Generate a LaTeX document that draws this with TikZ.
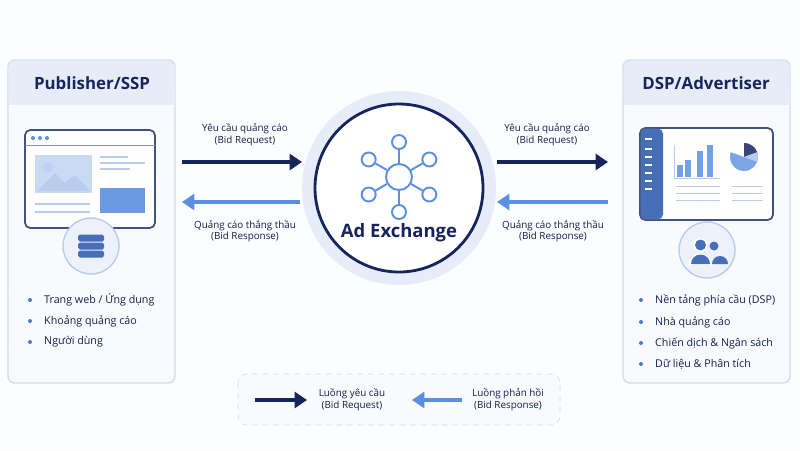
\documentclass[tikz,border=0pt]{standalone}
\usepackage{fontspec}
\setmainfont{Open Sans}
\usetikzlibrary{arrows.meta,calc}
\definecolor{navy}{HTML}{17255C}
\definecolor{sky}{HTML}{5B8FE0}
\definecolor{pale}{HTML}{E6EDF8}
\definecolor{panel}{HTML}{F8FAFD}
\definecolor{edge}{HTML}{D3DCEA}
\definecolor{soft}{HTML}{B9CCEE}
\begin{document}
\begin{tikzpicture}[x=0.02cm,y=-0.02cm,
  box/.style={draw=edge,fill=panel,rounded corners=4pt,line width=0.8pt},
  title/.style={font=\bfseries\fontsize{9.6}{11}\selectfont,text=navy},
  lbl/.style={font=\fontsize{5.6}{6.8}\selectfont,text=navy!85!black,align=center},
  item/.style={font=\fontsize{6.1}{7}\selectfont,text=navy!85!black,anchor=west},
  req/.style={-{Triangle[length=7pt,width=9pt]},line width=2.6pt,navy},
  resp/.style={-{Triangle[length=7pt,width=9pt]},line width=2.6pt,sky},
  hub/.style={circle,draw=sky,line width=1.1pt,fill=white,inner sep=0pt}]

\fill[white!60!panel] (0,0) rectangle (800,450);
\useasboundingbox (0,0) rectangle (800,450);

% publisher panel
\draw[box] (8,60) rectangle (175,383);
\fill[pale,rounded corners=4pt] (8.5,60.5) rectangle (174.5,105);
\fill[pale] (8.5,90) rectangle (174.5,105);
\node[title] (pub) at (92,83) {Publisher/SSP};
\draw[navy!80,fill=white,rounded corners=3pt,line width=1pt] (25,130) rectangle (155,228);
\draw[navy!50] (25,145) -- (155,145);
\foreach \i in {33,40,47} \fill[sky] (\i,138) circle (2);
\fill[pale!80!sky] (35,155) rectangle (92,193);
\fill[white!60!sky] (48,167) circle (5);
\fill[soft] (37,191) -- (55,173) -- (65,183) -- (75,175) -- (90,191) -- cycle;
\foreach \y/\w in {157/28,163/45,169/30} \draw[soft,line width=1pt] (100,\y) -- ++(\w,0);
\fill[sky!90] (100,188) rectangle (145,213);
\foreach \y in {204,212} \draw[soft,line width=1pt] (35,\y) -- (90,\y);
\draw[soft,fill=pale!70!white,line width=0.8pt] (91,246) circle (28);
\foreach \y in {238,246,254} \fill[sky!70!navy,rounded corners=1pt] (78,\y-3.5) rectangle (104,\y+3.5);
\foreach \y/\t in {300/{Trang web / Ứng dụng},321/{Khoảng quảng cáo},342/{Người dùng}} {
  \fill[sky!80!navy] (30,\y) circle (2);
  \node[item] at (38,\y) {\t};
}

% advertiser panel
\draw[box] (623,60) rectangle (790,383);
\fill[pale,rounded corners=4pt] (623.5,60.5) rectangle (789.5,105);
\fill[pale] (623.5,90) rectangle (789.5,105);
\node[title] (dsp) at (706,83) {DSP/Advertiser};
\draw[navy!80,fill=white,rounded corners=3pt,line width=1pt] (640,128) rectangle (773,220);
\fill[sky!70!navy,rounded corners=3pt] (640.5,128.5) rectangle (663,219.5);
\foreach \y in {139,149,157,165,173,181,189} \draw[white,line width=0.8pt] (645,\y) -- (652,\y);
\draw[soft] (674,145) -- (674,178) -- (720,178);
\foreach \x/\h in {677/12,685/17,697/26,707/32} \fill[sky!85] (\x,177) rectangle ++(6,-\h);
\fill[sky!80] (744,157) -- ++(270:14) arc (270:560:14) -- cycle;
\fill[navy!85] (744,157) -- ++(270:14) arc (270:340:14) -- cycle;
\fill[soft] (744,157) -- ++(340:14) arc (340:380:14) -- cycle;
\foreach \y in {186,193,200} {\draw[soft] (676,\y) -- (720,\y); \draw[soft] (732,\y) -- (763,\y);}
\draw[soft,fill=pale!70!white,line width=0.8pt] (707,250) circle (28);
\fill[sky!70!navy] (712,264) arc (180:360:8) -- cycle;
\fill[sky!70!navy] (714,246) circle (4.5);
\fill[white] (689,265) arc (180:360:11.5) -- cycle;
\fill[sky!70!navy] (691,264) arc (180:360:9.5) -- cycle;
\fill[white] (700.5,245) circle (7);
\fill[sky!70!navy] (700.5,245) circle (5.5);
\foreach \y/\t in {300/Nền tảng phía cầu (DSP),322/Nhà quảng cáo,343/Chiến dịch \& Ngân sách,364/Dữ liệu \& Phân tích} {
  \fill[sky!80!navy] (641,\y) circle (2);
  \node[item] at (649,\y) {\t};
}

% ad exchange
\fill[pale] (399,188) circle (97);
\draw[navy,fill=white,line width=1.6pt] (399,188) circle (84);
\foreach \a/\n in {90/a,30/b,-30/c,-90/d,-150/e,150/f} {
  \node[hub,minimum size=0.28cm] (\n) at ($(399,177)+(\a:35)$) {};
}
\node[hub,minimum size=0.52cm] (h) at (399,177) {};
\foreach \n in {a,b,c,d,e,f} \draw[sky,line width=1.1pt] (h) -- (\n);
\node[font=\bfseries\fontsize{10.5}{12}\selectfont,text=navy] (ax) at (399,233) {Ad Exchange};

% flows
\coordinate (l1) at (182,162); \coordinate (l2) at (302,162);
\coordinate (l3) at (300,202); \coordinate (l4) at (182,202);
\coordinate (r1) at (497,162); \coordinate (r2) at (608,162);
\coordinate (r3) at (608,202); \coordinate (r4) at (497,202);
\draw[req] (l1) -- (l2);
\draw[resp] (l3) -- (l4);
\draw[req] (r1) -- (r2);
\draw[resp] (r3) -- (r4);
\node[lbl] (q1) at (245,135) {Yêu cầu quảng cáo\\(Bid Request)};
\node[lbl] (s1) at (245,231) {Quảng cáo thắng thầu\\(Bid Response)};
\node[lbl] (q2) at (547,135) {Yêu cầu quảng cáo\\(Bid Request)};
\node[lbl] (s2) at (553,231) {Quảng cáo thắng thầu\\(Bid Response)};

% legend
\draw[edge,dashed,fill=panel,rounded corners=5pt] (238,374) rectangle (560,425);
\coordinate (k1) at (255,400); \coordinate (k2) at (307,400);
\coordinate (k3) at (462,400); \coordinate (k4) at (412,400);
\draw[req] (k1) -- (k2);
\draw[resp] (k3) -- (k4);
\node[lbl] (kq) at (352,400) {Luồng yêu cầu\\(Bid Request)};
\node[lbl] (ks) at (508,400) {Luồng phản hồi\\(Bid Response)};
\end{tikzpicture}
\end{document}
